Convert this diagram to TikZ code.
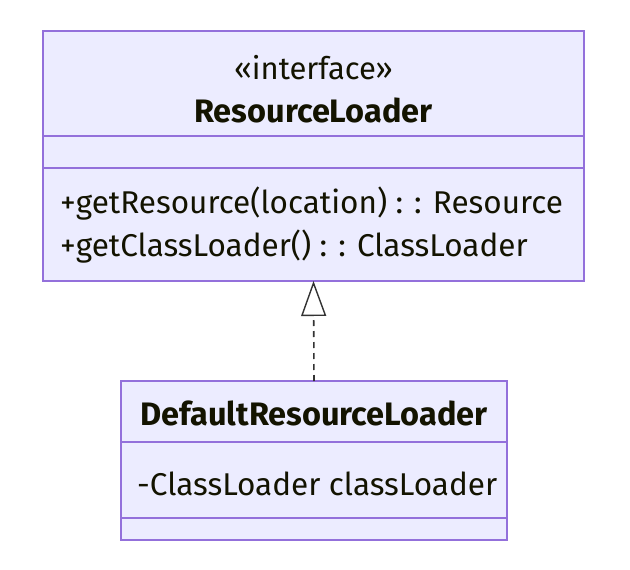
\documentclass[tikz,border=0pt]{standalone}
\usepackage{fontspec}
\setmainfont{Fira Sans}
\usetikzlibrary{arrows.meta}
\definecolor{umlfill}{HTML}{ECECFF}
\definecolor{umlline}{HTML}{9370DB}
\definecolor{umltext}{HTML}{131300}
\definecolor{edgegray}{HTML}{333333}
\tikzset{
  classbox/.style={draw=umlline,fill=umlfill,line width=1.5pt,inner sep=0pt,outer sep=0pt},
  divider/.style={draw=umlline,line width=1.5pt},
  member/.style={anchor=west,inner sep=0pt,text=umltext,font=\fontsize{31.5}{36}\selectfont},
  title/.style={inner sep=0pt,text=umltext,font=\fontsize{32.5}{37}\selectfont\bfseries},
  realize/.style={draw=edgegray,line width=1.6pt,dash pattern=on 6pt off 5pt,
    -{Triangle[open,width=25pt,length=35pt,line width=1.4pt]}}
}
\begin{document}
\begin{tikzpicture}[x=1pt,y=-1pt]
  \useasboundingbox (0,0) rectangle (630,570);
  % interface
  \node[classbox,minimum width=541pt,minimum height=250pt] (iface) at (313.5,156) {};
  \draw[divider] (iface.west |- 0,136) -- (iface.east |- 0,136);
  \draw[divider] (iface.west |- 0,168) -- (iface.east |- 0,168);
  \node[inner sep=0pt,text=umltext,font=\fontsize{31}{36}\selectfont] (stereo) at (313.5,68) {«interface»};
  \node[title] (ifacename) at (313.5,110) {ResourceLoader};
  \node[member] (getres) at (60,204) {+getResource(location) : : Resource};
  \node[member] (getcl) at (60,247) {+getClassLoader() : : ClassLoader};
  % implementation
  \node[classbox,minimum width=386pt,minimum height=159pt] (impl) at (314,460.5) {};
  \draw[divider] (impl.west |- 0,442) -- (impl.east |- 0,442);
  \draw[divider] (impl.west |- 0,518) -- (impl.east |- 0,518);
  \node[title] (implname) at (314,413) {DefaultResourceLoader};
  \node[member] (field) at (137,484) {-ClassLoader classLoader};
  % realization
  \draw[realize] (impl.north) -- (iface.south);
\end{tikzpicture}
\end{document}
